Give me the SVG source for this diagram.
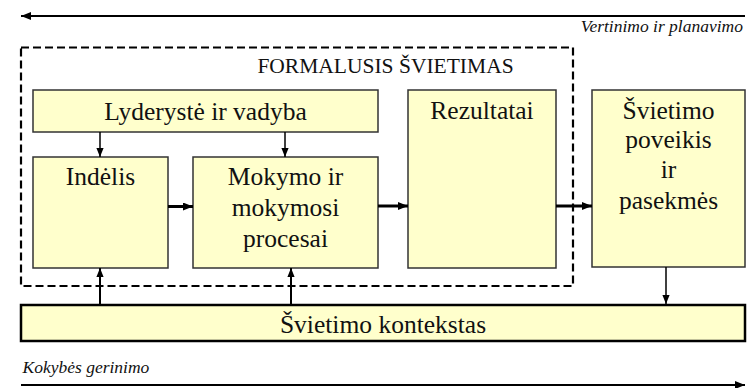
<svg xmlns="http://www.w3.org/2000/svg" width="756" height="388" viewBox="0 0 756 388">
<style>
.box{fill:#FFFFCC;stroke:#333;stroke-width:1.5}
.kbox{fill:#FFFFCC;stroke:#000;stroke-width:2.5}
.t{font-family:'Liberation Serif','Times New Roman',serif;font-size:25.5px;fill:#111;text-anchor:middle}
.ft{font-family:'Liberation Serif','Times New Roman',serif;font-size:21.5px;fill:#111;text-anchor:middle}
.it{font-family:'Liberation Serif','Times New Roman',serif;font-size:17.5px;font-style:italic;fill:#111}
.c{stroke:#000;fill:none}
</style>
<defs>
<marker id="ah" viewBox="0 0 10 8" refX="10" refY="4" markerWidth="10" markerHeight="8" markerUnits="userSpaceOnUse" orient="auto">
<path d="M0,0 L10,4 L0,8 z" fill="#000"/>
</marker>
<marker id="ahs" viewBox="0 0 10 8" refX="10" refY="4" markerWidth="9" markerHeight="8" markerUnits="userSpaceOnUse" orient="auto">
<path d="M0,0 L10,4 L0,8 z" fill="#000"/>
</marker>
</defs>

<g id="formalusis">
<rect x="21" y="47.5" width="552" height="238.5" fill="none" stroke="#000" stroke-width="2.2" stroke-dasharray="8 4"/>
<text class="ft" x="385.5" y="73">FORMALUSIS ŠVIETIMAS</text>
</g>

<g id="lyderyste">
<rect class="box" x="33" y="90" width="345" height="42"/>
<text class="t" x="205.5" y="119.5">Lyderystė ir vadyba</text>
</g>

<g id="indelis">
<rect class="box" x="33" y="157" width="135" height="111"/>
<text class="t" x="100.5" y="185">Indėlis</text>
</g>

<g id="mokymo">
<rect class="box" x="193" y="157" width="185" height="111"/>
<text class="t" x="285.5" y="185">Mokymo ir</text>
<text class="t" x="285.5" y="216">mokymosi</text>
<text class="t" x="285.5" y="247">procesai</text>
</g>

<g id="rezultatai">
<rect class="box" x="408" y="90" width="148" height="178"/>
<text class="t" x="482" y="118.5">Rezultatai</text>
</g>

<g id="poveikis">
<rect class="box" x="592" y="90" width="153" height="177"/>
<text class="t" x="668.5" y="118.5">Švietimo</text>
<text class="t" x="668.5" y="148">poveikis</text>
<text class="t" x="668.5" y="177.5">ir</text>
<text class="t" x="668.5" y="209">pasekmės</text>
</g>

<g id="kontekstas">
<rect class="kbox" x="21" y="305" width="724" height="36"/>
<text class="t" x="383" y="333">Švietimo kontekstas</text>
</g>

<g id="vertinimo">
<text class="it" x="743" y="32" text-anchor="end">Vertinimo ir planavimo</text>
</g>
<g id="kokybes">
<text class="it" x="22.5" y="373">Kokybės gerinimo</text>
</g>

<g id="connectors">
<line class="c" x1="745" y1="16" x2="21" y2="16" stroke-width="2" marker-end="url(#ah)"/>
<line class="c" x1="21" y1="385" x2="745" y2="385" stroke-width="2" marker-end="url(#ah)"/>
<line class="c" x1="100" y1="132" x2="100" y2="157" stroke-width="1.5" marker-end="url(#ahs)"/>
<line class="c" x1="285" y1="132" x2="285" y2="157" stroke-width="1.5" marker-end="url(#ahs)"/>
<line class="c" x1="168" y1="206.5" x2="193" y2="206.5" stroke-width="3" marker-end="url(#ah)"/>
<line class="c" x1="378" y1="206" x2="408" y2="206" stroke-width="3" marker-end="url(#ah)"/>
<line class="c" x1="556" y1="206" x2="592" y2="206" stroke-width="3" marker-end="url(#ah)"/>
<line class="c" x1="100" y1="304" x2="100" y2="268" stroke-width="2" marker-end="url(#ahs)"/>
<line class="c" x1="291" y1="304" x2="291" y2="268" stroke-width="2" marker-end="url(#ahs)"/>
<line class="c" x1="666" y1="267" x2="666" y2="304" stroke-width="1.5" marker-end="url(#ahs)"/>
</g>
</svg>
